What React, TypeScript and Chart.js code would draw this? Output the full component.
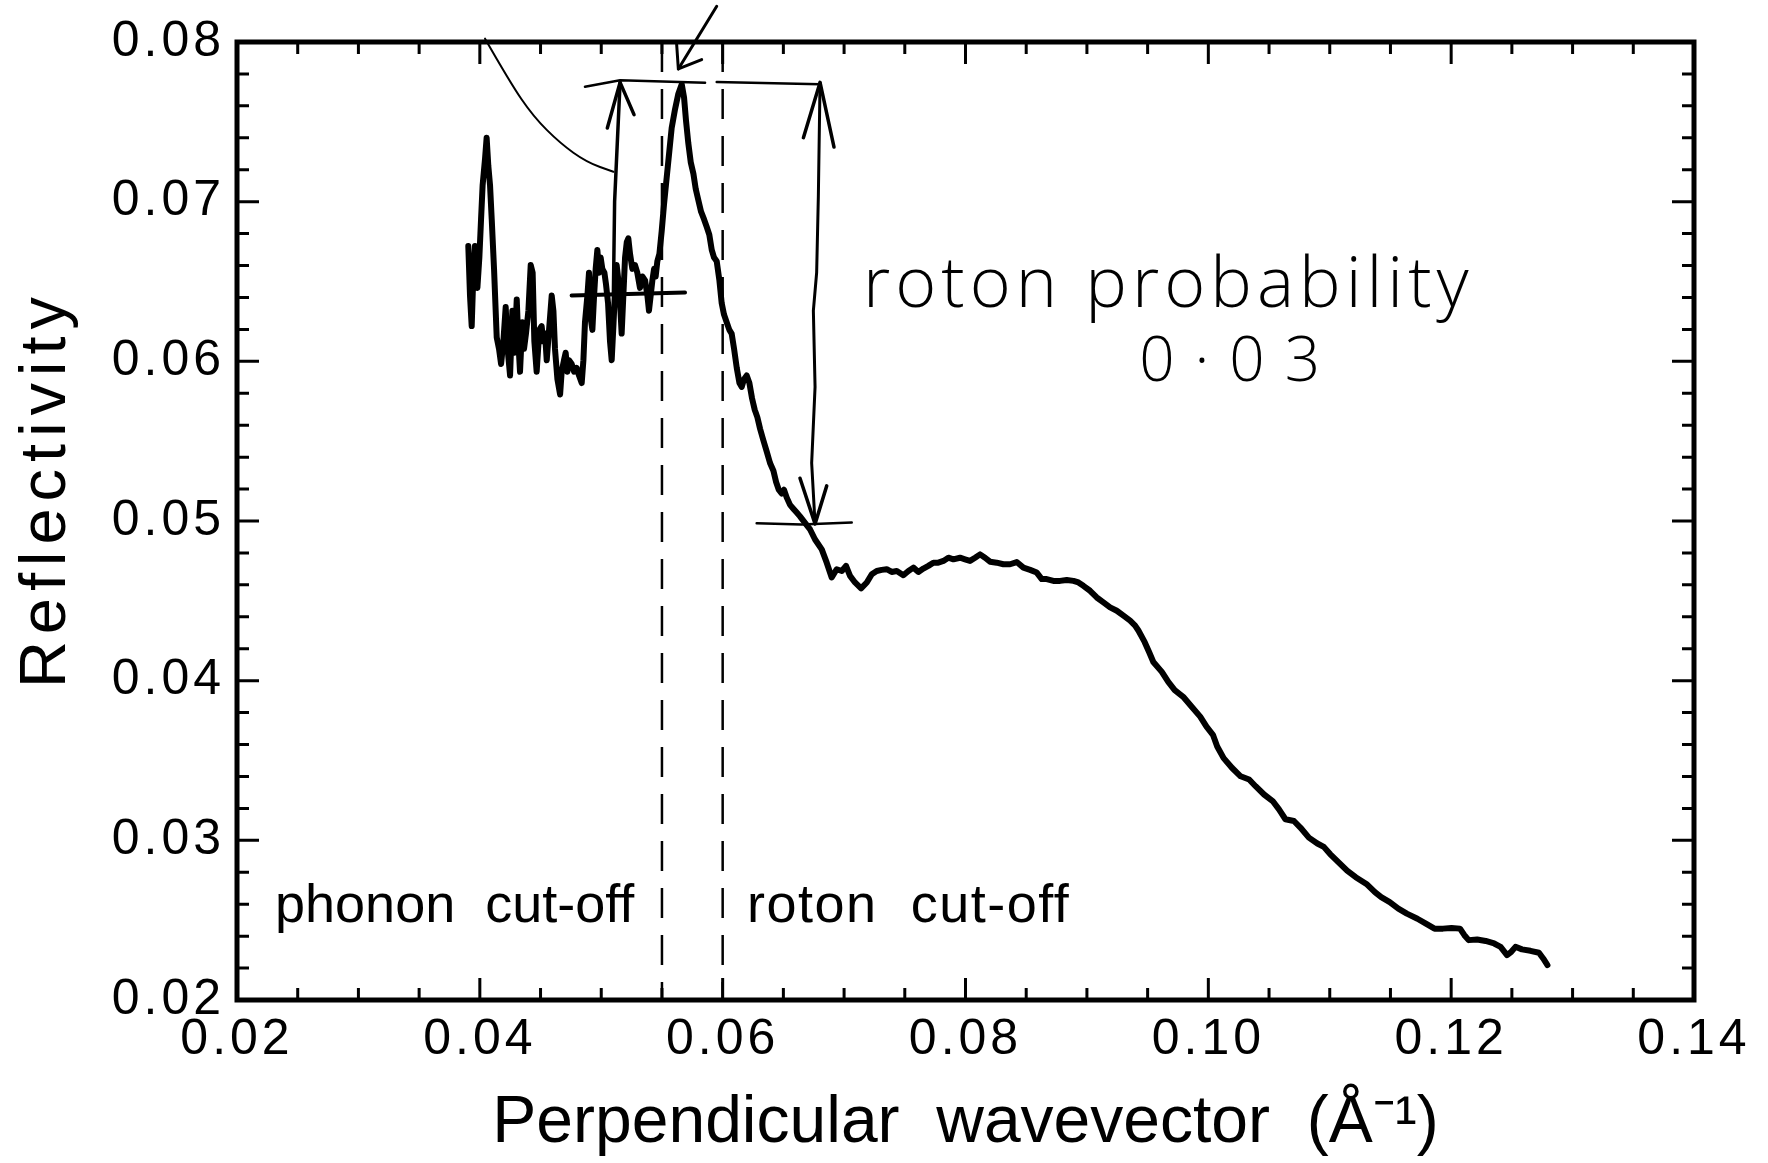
import React, { useEffect, useRef } from "react";
import { Chart, registerables } from "chart.js";

Chart.register(...registerables);

// ---------------- data ----------------
// perpendicular wavevector (1/Å) and reflectivity, noisy phonon region + roton peak
const phononRegionQ = [
  0.03905, 0.03919, 0.03933, 0.03947, 0.0396, 0.0398, 0.03996, 0.0401, 0.04023, 0.04043,
  0.04056, 0.0407, 0.04084, 0.04098, 0.04117, 0.04139, 0.04158, 0.04175, 0.04194, 0.04213,
  0.04229, 0.04249, 0.04268, 0.04284, 0.04304, 0.04317, 0.04331, 0.0435, 0.04364, 0.0438,
  0.044, 0.04419, 0.04435, 0.04449, 0.04468, 0.0449, 0.04509, 0.04523, 0.04537, 0.04551,
  0.0457, 0.04592, 0.04606, 0.04619, 0.04639, 0.04661, 0.04674, 0.04693, 0.04707, 0.04721,
  0.04735, 0.04757, 0.04776, 0.04798, 0.04817, 0.04839, 0.04853, 0.04866, 0.04886, 0.04899,
  0.04913, 0.04927, 0.04941, 0.04954, 0.04968, 0.04982, 0.04995, 0.05009, 0.05026, 0.05039,
  0.05056, 0.05072, 0.05086, 0.051, 0.05113, 0.05127, 0.05141, 0.05155, 0.05168, 0.05182,
  0.05196, 0.0521, 0.05223, 0.05237, 0.05256, 0.05278, 0.05297, 0.05319, 0.05339, 0.05361,
  0.0538, 0.05393, 0.05407, 0.05421, 0.05435, 0.05448, 0.05462, 0.05479, 0.05498, 0.05517,
  0.05539, 0.05561, 0.0558, 0.05608, 0.05635, 0.05663, 0.05682, 0.05698, 0.05717, 0.05737,
  0.05759, 0.05778, 0.058, 0.05822, 0.05847, 0.05869, 0.0589, 0.0591, 0.05929, 0.05951,
  0.05973, 0.05992, 0.06011, 0.06033, 0.06055, 0.06074, 0.06094, 0.06116, 0.06138, 0.06157,
  0.06176, 0.06198, 0.0622, 0.06242, 0.06264, 0.06286, 0.06308, 0.06335, 0.06363, 0.0639,
  0.06418, 0.0644, 0.06462, 0.06486, 0.06505, 0.06527, 0.06555, 0.06582, 0.0661, 0.06637,
];
const phononRegionR = [
  0.06722, 0.06412, 0.06221, 0.06555, 0.06722, 0.0646, 0.0665, 0.06889, 0.07103, 0.0727,
  0.07401, 0.07223, 0.07103, 0.06889, 0.06579, 0.0615, 0.06078, 0.05983, 0.06126, 0.0634,
  0.06078, 0.05911, 0.06317, 0.06054, 0.06388, 0.06126, 0.05935, 0.06245, 0.06078, 0.06174,
  0.06317, 0.06603, 0.06555, 0.06126, 0.05935, 0.06197, 0.06221, 0.06126, 0.06174, 0.06007,
  0.06197, 0.06412, 0.06317, 0.06078, 0.05888, 0.05792, 0.05935, 0.06007, 0.06054, 0.05935,
  0.06007, 0.05983, 0.05935, 0.05959, 0.05911, 0.05864, 0.06007, 0.06245, 0.06412, 0.06555,
  0.06269, 0.06197, 0.06412, 0.06579, 0.06698, 0.06555, 0.0665, 0.06579, 0.06555, 0.06484,
  0.06364, 0.06126, 0.06007, 0.06221, 0.06436, 0.06603, 0.06507, 0.06364, 0.06174, 0.06412,
  0.0665, 0.06746, 0.0677, 0.06674, 0.06579, 0.06603, 0.06555, 0.0646, 0.06531, 0.06507,
  0.06412, 0.06317, 0.06412, 0.06507, 0.06579, 0.06531, 0.06627, 0.06674, 0.06817, 0.06984,
  0.07151, 0.07318, 0.07461, 0.0758, 0.07676, 0.07735, 0.07652, 0.07509, 0.07366, 0.07247,
  0.07175, 0.0708, 0.07008, 0.06937, 0.06889, 0.06841, 0.06793, 0.06698, 0.0665, 0.06627,
  0.06507, 0.06364, 0.06293, 0.06245, 0.06197, 0.06174, 0.06078, 0.05959, 0.05864, 0.0584,
  0.05888, 0.05911, 0.05864, 0.05768, 0.05697, 0.05649, 0.05578, 0.05506, 0.05435, 0.05363,
  0.05315, 0.05244, 0.05196, 0.05172, 0.05196, 0.05148, 0.05101, 0.05077, 0.05053, 0.05029,
];
// plateau region
const plateauQ = [
  0.06678, 0.0672, 0.06761, 0.06816, 0.06857, 0.06898, 0.06939, 0.06981, 0.07016, 0.07049,
  0.0709, 0.0714, 0.07187, 0.07228, 0.07269, 0.0731, 0.07351, 0.07392, 0.07434, 0.07488,
  0.0753, 0.07571, 0.07612, 0.07653, 0.07694, 0.07735, 0.07776, 0.07818, 0.07859, 0.079,
  0.07955, 0.07996, 0.08037, 0.08079, 0.0812, 0.08161, 0.08202, 0.08257, 0.08312, 0.08367,
  0.08422, 0.08477, 0.08532, 0.08587, 0.08628, 0.08669, 0.08724, 0.08779, 0.08834, 0.08889,
  0.0893, 0.08971, 0.09026, 0.09081, 0.09136, 0.09191, 0.09246, 0.09301, 0.09356, 0.09397,
];
const plateauR = [
  0.04988, 0.04947, 0.04884, 0.04822, 0.04739, 0.04646, 0.04698, 0.04687, 0.04719, 0.04656,
  0.04615, 0.04578, 0.04615, 0.04667, 0.04687, 0.04694, 0.04698, 0.04681, 0.04687, 0.0466,
  0.04687, 0.04708, 0.04681, 0.04702, 0.04719, 0.04739, 0.04739, 0.0475, 0.0477, 0.0476,
  0.0477, 0.0476, 0.0475, 0.0477, 0.04791, 0.0477, 0.04745, 0.04739, 0.04729, 0.04729,
  0.04743, 0.04708, 0.04694, 0.04677, 0.04636, 0.04636, 0.04625, 0.04625, 0.04631, 0.04625,
  0.04615, 0.04594, 0.04563, 0.04521, 0.0449, 0.04459, 0.04438, 0.04407, 0.04376, 0.04345,
];
// high-q tail
const tailQ = [
  0.09424, 0.09476, 0.09512, 0.09547, 0.09617, 0.0967, 0.09723, 0.09793, 0.09863, 0.09933,
  0.09985, 0.10038, 0.10073, 0.10126, 0.10196, 0.10266, 0.10336, 0.10389, 0.10459, 0.1053,
  0.10582, 0.10635, 0.10705, 0.10758, 0.10828, 0.10898, 0.10951, 0.11003, 0.11073, 0.11143,
  0.11214, 0.11302, 0.11372, 0.11424, 0.11494, 0.11565, 0.11635, 0.11722, 0.11792, 0.11863,
  0.11933, 0.12003, 0.12073, 0.12109, 0.12144, 0.12214, 0.12284, 0.12354, 0.12407, 0.1246,
  0.12495, 0.1253, 0.12583, 0.12653, 0.12723, 0.12758, 0.12793,
];
const tailR = [
  0.04314, 0.04241, 0.04179, 0.04117, 0.04055, 0.03992, 0.03941, 0.03899, 0.03837, 0.03775,
  0.03712, 0.03661, 0.03588, 0.03515, 0.03453, 0.03401, 0.03381, 0.03339, 0.03287, 0.03246,
  0.03194, 0.03132, 0.03121, 0.0308, 0.03017, 0.0298, 0.02959, 0.02914, 0.02862, 0.0281,
  0.02769, 0.02727, 0.02675, 0.02644, 0.02613, 0.02572, 0.02541, 0.02509, 0.02478, 0.02447,
  0.02447, 0.02451, 0.02447, 0.02406, 0.02375, 0.02379, 0.0237, 0.02354, 0.02333, 0.02281,
  0.02302, 0.02333, 0.02317, 0.02308, 0.02296, 0.0226, 0.02219,
];

const xTickValues = [0.02, 0.04, 0.06, 0.08, 0.1, 0.12, 0.14];
const yTickValues = [0.02, 0.03, 0.04, 0.05, 0.06, 0.07, 0.08];
const xMinorStep = 0.005;
const yMinorStep = 0.002;
const cutoffQ = [0.055, 0.06];

const xTitle = "Perpendicular  wavevector  (Å⁻¹)";
const yTitle = "Reflectivity";
const regionLabels = ["phonon  cut-off", "roton  cut-off"];
const regionLabelQ = [0.02313, 0.06201];
const regionLabelR = 0.02487;
const noteLines = ["roton probability", "0·03"];
const noteQ = [0.07156, 0.0943];
const noteR = [0.06339, 0.05878];

// hand-drawn marks, in data coordinates
const handStrokes: { q: number[]; r: number[]; w: number; smooth?: boolean }[] = [
  // bracket at peak level
  { q: [0.04866, 0.05155, 0.05855], r: [0.0772, 0.0776, 0.07745], w: 2.5 },
  { q: [0.05951, 0.06802], r: [0.0775, 0.07735], w: 2.5 },
  // bracket at phonon background level
  { q: [0.04756, 0.0569], r: [0.06412, 0.06431], w: 4 },
  // bracket at roton level
  { q: [0.0628, 0.0665, 0.07063], r: [0.04986, 0.04978, 0.0499], w: 2.5 },
  // up arrow (phonon)
  { q: [0.051, 0.0511, 0.05155], r: [0.06424, 0.07, 0.07747], w: 3.5 },
  { q: [0.0505, 0.05155, 0.0527], r: [0.07461, 0.07747, 0.07545], w: 3.5 },
  // double arrow (roton)
  {
    q: [0.06802, 0.06788, 0.06774, 0.06747, 0.06761, 0.06733, 0.06761],
    r: [0.07747, 0.07032, 0.06555, 0.06317, 0.0584, 0.05363, 0.04982],
    w: 3,
  },
  { q: [0.06665, 0.06802, 0.06917], r: [0.07401, 0.07747, 0.07342], w: 3.5 },
  { q: [0.06637, 0.06761, 0.06857], r: [0.05268, 0.04982, 0.0522], w: 3.5 },
  // arrow pointing at the peak from above
  { q: [0.05951, 0.05635], r: [0.08224, 0.07831], w: 3 },
  { q: [0.05621, 0.05635, 0.05827], r: [0.07986, 0.07831, 0.0789], w: 3 },
  // curved leader line
  {
    q: [0.04043, 0.04249, 0.04441, 0.04661, 0.0488, 0.051],
    r: [0.08021, 0.07747, 0.07533, 0.07366, 0.07247, 0.07187],
    w: 2,
    smooth: true,
  },
];

const X_MIN = 0.02;
const X_MAX = 0.14;
const Y_MIN = 0.02;
const Y_MAX = 0.08;

const FONT = '"Liberation Sans", Arial, Helvetica, sans-serif';

const overlayPlugin = {
  id: "overlay",
  beforeDatasetsDraw(chart: any) {
    const { ctx, scales } = chart;
    const x = scales.x;
    const y = scales.y;
    ctx.save();
    ctx.strokeStyle = "#000";
    ctx.lineWidth = 2.5;
    ctx.setLineDash([30, 17]);
    for (const q of cutoffQ) {
      const px = x.getPixelForValue(q);
      ctx.beginPath();
      ctx.moveTo(px, y.getPixelForValue(Y_MAX));
      ctx.lineTo(px, y.getPixelForValue(Y_MIN));
      ctx.stroke();
    }
    ctx.restore();
  },
  afterDatasetsDraw(chart: any) {
    // tick labels (drawn next, on layer z=1) get a little letter spacing
    (chart.ctx as any).letterSpacing = "4px";
  },
  afterDraw(chart: any) {
    const { ctx, chartArea, scales } = chart;
    (ctx as any).letterSpacing = "0px";
    const x = scales.x;
    const y = scales.y;
    const { left, right, top, bottom } = chartArea;
    ctx.save();
    ctx.strokeStyle = "#000";
    ctx.fillStyle = "#000";
    ctx.lineCap = "butt";

    // ticks on all four sides, pointing inward
    ctx.lineWidth = 3;
    const nx = Math.round((X_MAX - X_MIN) / xMinorStep);
    for (let i = 0; i <= nx; i++) {
      const v = X_MIN + i * xMinorStep;
      const major = i % 4 === 0;
      const len = major ? 22 : 12;
      const px = x.getPixelForValue(v);
      ctx.beginPath();
      ctx.moveTo(px, bottom);
      ctx.lineTo(px, bottom - len);
      ctx.moveTo(px, top);
      ctx.lineTo(px, top + len);
      ctx.stroke();
    }
    const ny = Math.round((Y_MAX - Y_MIN) / yMinorStep);
    for (let i = 0; i <= ny; i++) {
      const v = Y_MIN + i * yMinorStep;
      const major = i % 5 === 0;
      const len = major ? 22 : 12;
      const py = y.getPixelForValue(v);
      ctx.beginPath();
      ctx.moveTo(left, py);
      ctx.lineTo(left + len, py);
      ctx.moveTo(right, py);
      ctx.lineTo(right - len, py);
      ctx.stroke();
    }

    // frame
    ctx.lineWidth = 5;
    ctx.strokeRect(left, top, right - left, bottom - top);

    // hand-drawn strokes
    ctx.lineCap = "round";
    ctx.lineJoin = "round";
    for (const s of handStrokes) {
      const pts = s.q.map((q, i) => [x.getPixelForValue(q), y.getPixelForValue(s.r[i])]);
      ctx.lineWidth = s.w;
      ctx.beginPath();
      ctx.moveTo(pts[0][0], pts[0][1]);
      if (s.smooth && pts.length > 2) {
        for (let i = 1; i < pts.length - 1; i++) {
          const mx = (pts[i][0] + pts[i + 1][0]) / 2;
          const my = (pts[i][1] + pts[i + 1][1]) / 2;
          ctx.quadraticCurveTo(pts[i][0], pts[i][1], mx, my);
        }
        const last = pts[pts.length - 1];
        ctx.lineTo(last[0], last[1]);
      } else {
        for (let i = 1; i < pts.length; i++) ctx.lineTo(pts[i][0], pts[i][1]);
      }
      ctx.stroke();
    }

    // region labels
    ctx.textAlign = "left";
    ctx.textBaseline = "alphabetic";
    ctx.font = `54px ${FONT}`;
    ctx.fillText(regionLabels[0], x.getPixelForValue(regionLabelQ[0]), y.getPixelForValue(regionLabelR));
    (ctx as any).letterSpacing = "1.5px";
    ctx.fillText(regionLabels[1], x.getPixelForValue(regionLabelQ[1]), y.getPixelForValue(regionLabelR));

    // handwritten note
    ctx.font = '300 70px "Open Sans", "Noto Sans", sans-serif';
    (ctx as any).letterSpacing = "5px";
    ctx.fillText(noteLines[0], x.getPixelForValue(noteQ[0]), y.getPixelForValue(noteR[0]));
    ctx.font = '300 62px "Open Sans", "Noto Sans", sans-serif';
    (ctx as any).letterSpacing = "20px";
    ctx.fillText(noteLines[1], x.getPixelForValue(noteQ[1]), y.getPixelForValue(noteR[1]));

    // y-axis title
    (ctx as any).letterSpacing = "7px";
    ctx.font = `65px ${FONT}`;
    ctx.translate(65, (top + bottom) / 2 - 32);
    ctx.rotate(-Math.PI / 2);
    ctx.textAlign = "center";
    ctx.fillText(yTitle, 0, 0);
    ctx.restore();
  },
};

export default function App() {
  const canvasRef = useRef<HTMLCanvasElement | null>(null);

  useEffect(() => {
    document.body.style.margin = "0";
    const canvas = canvasRef.current;
    if (!canvas) return;
    const allQ = [...phononRegionQ, ...plateauQ, ...tailQ];
    const allR = [...phononRegionR, ...plateauR, ...tailR];
    const points = allQ.map((q, i) => ({ x: q, y: allR[i] }));

    const chart = new Chart(canvas, {
      type: "line",
      data: {
        datasets: [
          {
            data: points,
            borderColor: "#000",
            borderWidth: 6,
            pointRadius: 0,
            tension: 0,
            fill: false,
            borderJoinStyle: "round",
            borderCapStyle: "round",
          } as any,
        ],
      },
      options: {
        responsive: false,
        animation: false,
        events: [],
        layout: { padding: { top: 36, right: 74, bottom: 0, left: 0 } },
        plugins: {
          legend: { display: false },
          tooltip: { enabled: false },
          title: { display: false },
        },
        scales: {
          x: {
            type: "linear",
            position: "bottom",
            min: X_MIN,
            max: X_MAX,
            afterBuildTicks: (s: any) => {
              s.ticks = xTickValues.map((v) => ({ value: v }));
            },
            afterFit: (s: any) => {
              s.height = 163;
            },
            ticks: {
              callback: (v: any) => Number(v).toFixed(2),
              font: { family: FONT, size: 50 },
              color: "#000",
              padding: 10,
              maxRotation: 0,
              autoSkip: false,
              z: 1,
            },
            grid: { display: false, drawTicks: false },
            border: { display: false },
            title: {
              display: true,
              text: xTitle,
              color: "#000",
              font: { family: FONT, size: 66 },
              padding: 0,
            },
          },
          y: {
            type: "linear",
            min: Y_MIN,
            max: Y_MAX,
            afterBuildTicks: (s: any) => {
              s.ticks = yTickValues.map((v) => ({ value: v }));
            },
            afterFit: (s: any) => {
              s.width = 237;
            },
            ticks: {
              callback: (v: any) => Number(v).toFixed(2),
              font: { family: FONT, size: 50 },
              color: "#000",
              padding: 12,
              autoSkip: false,
              z: 1,
            },
            grid: { display: false, drawTicks: false },
            border: { display: false },
            title: { display: false },
          },
        },
      } as any,
      plugins: [overlayPlugin],
    });
    return () => chart.destroy();
  }, []);

  return (
    <canvas
      ref={canvasRef}
      width={1768}
      height={1163}
      style={{ display: "block", width: 1768, height: 1163 }}
    />
  );
}
